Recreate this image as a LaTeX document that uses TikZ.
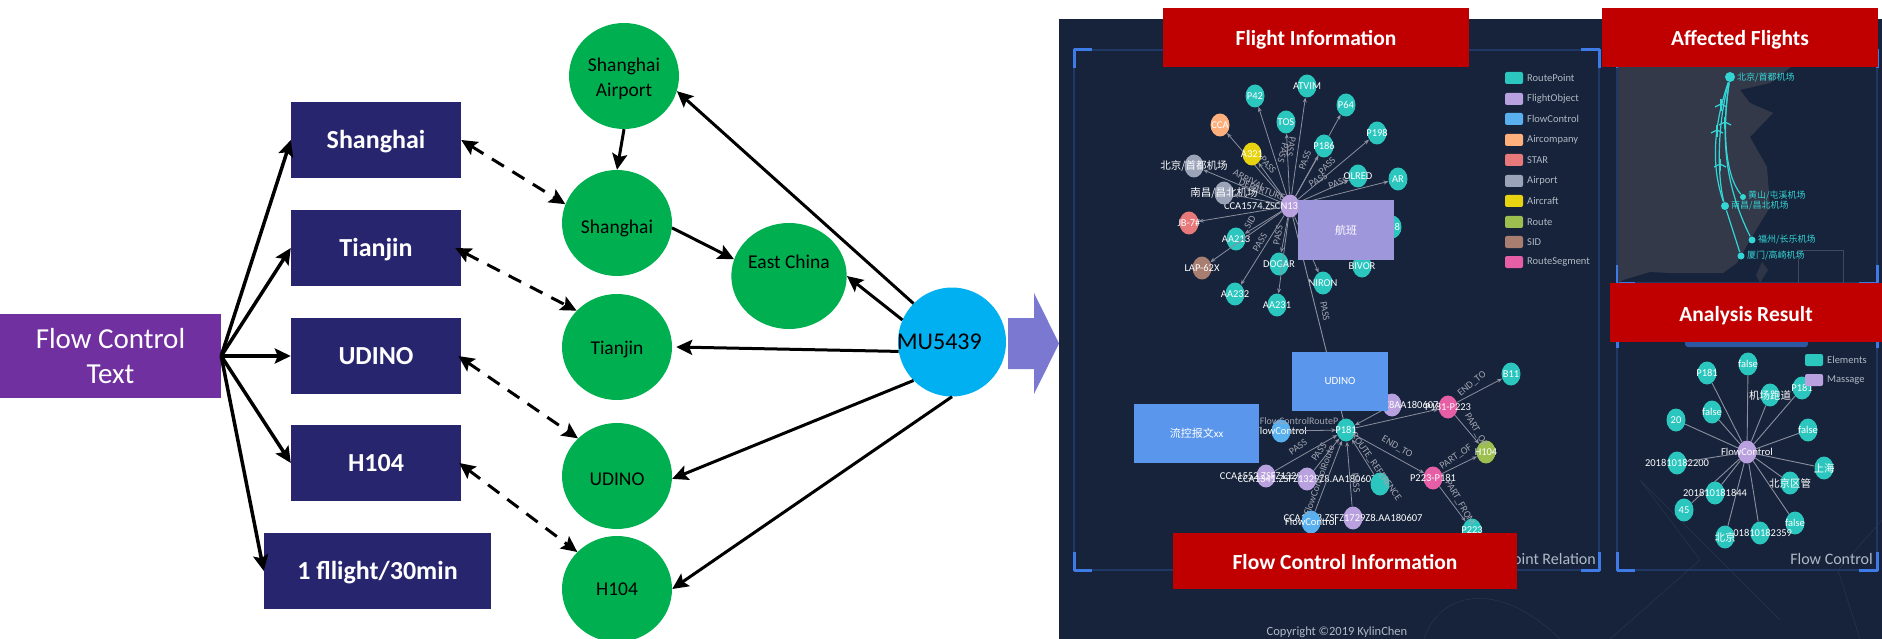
\documentclass[tikz,border=0pt]{standalone}
\usepackage{fontspec}
\setmainfont{Carlito}
\newfontfamily\zhfont{Noto Sans CJK SC}
\usetikzlibrary{arrows.meta,shapes.geometric}
\definecolor{navybox}{HTML}{28256F}
\definecolor{purplebox}{HTML}{7030A0}
\definecolor{greennode}{HTML}{00B050}
\definecolor{skynode}{HTML}{00B0F0}
\definecolor{redbar}{HTML}{C00000}
\definecolor{blockarrow}{HTML}{7B78D2}
\definecolor{dashbg}{HTML}{16233A}
\definecolor{framelow}{HTML}{1F3866}
\definecolor{framehigh}{HTML}{3E7BE6}
\definecolor{landgrey}{HTML}{34394A}
\definecolor{gedgecol}{HTML}{8C8F9F}
\definecolor{legendtext}{HTML}{B0BAC6}
\definecolor{routecyan}{HTML}{33D5D5}
\definecolor{cteal}{HTML}{2BC6BE}
\definecolor{clav}{HTML}{B9A1DF}
\definecolor{cblue}{HTML}{5AB0EE}
\definecolor{corange}{HTML}{FFB07C}
\definecolor{cred}{HTML}{E8797B}
\definecolor{cgrey}{HTML}{9BA3B8}
\definecolor{cyellow}{HTML}{E8D310}
\definecolor{cgreen}{HTML}{9CBF50}
\definecolor{cbrown}{HTML}{A87E70}
\definecolor{cpink}{HTML}{E65FA6}
\definecolor{taglav}{HTML}{9E97DC}
\definecolor{tagblue}{HTML}{5A96EC}
\newcommand{\setfs}[1]{\fontsize{#1}{#1}\selectfont}
\newcommand{\zh}[1]{{\zhfont #1}}
\newcommand{\lowered}[2]{\raisebox{#1}[0pt][0pt]{#2}}
\tikzset{
	navy/.style={rectangle,fill=navybox,text=white,font=\setfs{26}\bfseries,minimum width=170pt,minimum height=76pt,inner sep=0pt,text height=17pt,text depth=0pt},
	greenball/.style={ellipse,fill=greennode,font=\setfs{19.5},minimum width=110pt,minimum height=106pt,inner sep=0pt,align=center},
	redbanner/.style={rectangle,fill=redbar,text=white,font=\setfs{21.5}\bfseries,inner sep=0pt,text height=17pt,text depth=0pt},
	tagbox/.style={rectangle,text=white,font=\setfs{11},inner sep=0pt,minimum height=59pt},
	gnode/.style={ellipse,inner sep=0pt,minimum width=19pt,minimum height=23pt,text=white,font=\setfs{10.5}},
	gedge/.style={draw=gedgecol,line width=0.8pt,-{Stealth[length=5pt,width=4pt]}},
	gline/.style={draw=gedgecol,line width=0.9pt},
	glabel/.style={text=gedgecol!80!white,font=\setfs{10},inner sep=0pt},
	legendkey/.style={rectangle,rounded corners=2pt,minimum width=18pt,minimum height=12pt,inner sep=0pt},
	legendname/.style={text=legendtext,font=\setfs{10.5},inner sep=0pt,anchor=west},
	routelabel/.style={text=routecyan,font=\setfs{9},inner sep=0pt,anchor=west},
}
\begin{document}
\begin{tikzpicture}[
	x=1pt,y=-1pt,
	>={Stealth[length=16pt,width=15pt,inset=3pt]},
	line join=round
	]
	\useasboundingbox (0,0) rectangle (1882,639);
	% dashboard
	\fill[dashbg] (1059,19) rectangle (1882,639);
	\begin{scope}[draw=dashbg!92!white,line width=0.5pt]
		\draw (1610,639) -- (1700,560) -- (1640,480) -- (1780,620);
		\draw (1860,639) -- (1838,570) -- (1882,520);
		\draw (1424,639) .. controls (1440,590) and (1500,580) .. (1560,639);
	\end{scope}
	\foreach \xa/\ya/\xb/\yb in {1074/50/1599/570,1617/50/1877/283,1617/330/1877/570}{
		\draw[framelow,line width=1.2pt] (\xa,\ya) rectangle (\xb,\yb);
		\draw[framehigh,line width=3pt] (\xa,\ya+18) -- (\xa,\ya) -- (\xa+18,\ya);
		\draw[framehigh,line width=3pt] (\xb,\ya+18) -- (\xb,\ya) -- (\xb-18,\ya);
		\draw[framehigh,line width=3pt] (\xa,\yb-18) -- (\xa,\yb) -- (\xa+18,\yb);
		\draw[framehigh,line width=3pt] (\xb,\yb-18) -- (\xb,\yb) -- (\xb-18,\yb);
	}
	% map
	\fill[landgrey] (1618,50) -- (1800,60) -- (1770,83) -- (1740,90) -- (1750,103) -- (1773,113) -- (1750,137) -- (1767,167) -- (1770,207) -- (1750,240) -- (1737,263) -- (1723,273) -- (1670,273) -- (1650,272) -- (1623,280) -- (1618,283) -- cycle;
	\fill[landgrey!80!dashbg] (1762,262) -- (1768,270) -- (1760,283) -- (1756,275) -- cycle;
	\draw[gedgecol!35!dashbg,line width=0.5pt] (1798,283) -- (1798,250) -- (1843,250) -- (1843,283);
	\begin{scope}[routecyan,line width=1.2pt]
		\node[circle,fill=routecyan,inner sep=0pt,minimum size=10pt] (bj) at (1730,77) {};
		\node[circle,fill=routecyan,inner sep=0pt,minimum size=6pt] (hs) at (1743,197) {};
		\node[circle,fill=routecyan,inner sep=0pt,minimum size=8pt] (nc) at (1725,206) {};
		\node[circle,fill=routecyan,inner sep=0pt,minimum size=7pt] (fz) at (1752,240) {};
		\node[circle,fill=routecyan,inner sep=0pt,minimum size=7pt] (xm) at (1741,256) {};
		\draw (bj) .. controls (1712,130) and (1712,170) .. (nc);
		\draw (bj) .. controls (1716,130) and (1718,180) .. (nc);
		\draw (bj) .. controls (1722,130) and (1725,175) .. (hs);
		\draw (bj) .. controls (1722,130) and (1722,180) .. (fz);
		\draw (nc) -- (xm);
		\foreach \x/\y in {1721/105,1725/123,1717/131,1720/165}{
			\draw (\x-6,\y+2) -- (\x,\y-1) -- (\x+6,\y+2);
			\draw (\x,\y-6) -- (\x,\y+6);
		}
	\end{scope}
	\node[routelabel] (bjname) at (1737,77) {\zh{北京/首都机场}};
	\node[routelabel] (hsname) at (1748,196) {\zh{黄山/屯溪机场}};
	\node[routelabel] (ncname) at (1731,206) {\zh{南昌/昌北机场}};
	\node[routelabel] (fzname) at (1758,240) {\zh{福州/长乐机场}};
	\node[routelabel] (xmname) at (1747,256) {\zh{厦门/高崎机场}};
	% flight graph
	\node[gnode,fill=clav] (flight) at (1290,206) {\makebox[0pt][r]{CCA1574.ZSCN13\hspace{-8pt}}};
	\foreach \name/\x/\y/\col/\txt in {
		p42/1255/96/cteal/P42,atvim/1307/86/cteal/ATVIM,p64/1346/105/cteal/P64,tos/1286/122/cteal/TOS,
		p198/1377/133/cteal/P198,cca/1220/125/corange/CCA,a321/1252/154/cyellow/A321,p186/1324/146/cteal/P186,
		olred/1358/176/cteal/OLRED,ar/1398/179/cteal/AR,bjport/1194/166/cgrey/{\zh{北京/首都机场}},
		ncport/1224/193/cgrey/{\zh{南昌/昌北机场}},star/1189/223/cred/JB-7\#,aa213/1236/239/cteal/AA213,
		sid/1202/268/cbrown/LAP-62X,aa232/1235/294/cteal/AA232,dogar/1279/264/cteal/DOGAR,aa231/1277/305/cteal/AA231,
		niron/1323/283/cteal/NIRON,bivor/1362/266/cteal/BIVOR,p48/1392/227/cteal/P48}{
		\node[gnode,fill=\col] (\name) at (\x,\y) {\makebox[0pt]{\txt}};
		\draw[gedge] (flight) -- (\name);
	}
	\foreach \x/\y/\ang/\txt in {
		1249/180/-28/ARRIVAL,1262/190/-20/DEPARTURE,1291/147/-100/PASS,1283/153/-105/PASS,1327/166/45/PASS,
		1318/180/30/PASS,1338/183/20/PASS,1268/165/-50/PASS,1305/160/70/PASS,1260/242/60/PASS,1278/235/80/PASS,
		1250/222/60/SID,1325/311/-80/PASS}{
		\node[glabel,rotate=\ang] (lab\x) at (\x,\y) {\txt};
	}
	% flow control graph
	\node[gnode,fill=cteal] (p181) at (1346,430) {\makebox[0pt]{P181}};
	\node[gnode,fill=cpink] (pseg) at (1448,407) {\makebox[0pt]{P181-P223}};
	\node[gnode,fill=cteal] (b11) at (1511,374) {\makebox[0pt]{B11}};
	\node[gnode,fill=cgreen] (h104) at (1486,452) {\makebox[0pt]{H104}};
	\node[gnode,fill=cpink] (pp) at (1433,478) {\makebox[0pt]{P223-P181}};
	\node[gnode,fill=cteal] (p223) at (1472,530) {\makebox[0pt]{P223}};
	\foreach \name/\x/\y/\col/\txt in {
		lavtop/1392/405/clav/CCA1314Z8AA180607,flowleft/1281/431/cblue/FlowControl,lavone/1266/476/clav/CCA1552.ZSFZ1329Z8,
		lavtwo/1307/479/clav/CCA1341.ZSFZ1329Z8.AA180607,tealdot/1380/484/cteal/{},lavthree/1353/518/clav/CCA1728.ZSFZ1729Z8.AA180607,
		flowlow/1311/522/cblue/FlowControl}{
		\node[gnode,fill=\col] (\name) at (\x,\y) {\makebox[0pt]{\txt}};
		\draw[gedge] (\name) -- (p181);
	}
	\draw[gline] (flight) -- (p181);
	\foreach \from/\to in {p181/pseg,pseg/b11,pseg/h104,pp/h104,pp/p223,p181/pp}{
		\draw[gedge] (\from) -- (\to);
	}
	\foreach \x/\y/\ang/\txt in {
		1472/384/40/END\_TO,1476/430/-60/PART\_OF,1397/447/-30/END\_TO,1456/457/35/PART\_OF,1460/503/-60/PART\_FROM,
		1298/447/35/PASS,1319/452/55/PASS,1356/483/-85/PASS,1299/421/0/FlowControlRouteP,1376/467/-55/ROUTE\_REFERENCE,
		1319/480/70/FlowControlRoute}{
		\node[glabel,rotate=\ang] (lab\x) at (\x,\y) {\txt};
	}
	% analysis graph
	\fill[framehigh!60!dashbg,rounded corners=3pt] (1685,340) rectangle (1808,347);
	\node[gnode,fill=clav] (fc) at (1747,452) {\makebox[0pt]{FlowControl}};
	\foreach \name/\x/\y/\txt in {
		fa/1748/364/false,pa/1707/373/P181,fb/1712/412/false,twenty/1676/420/20,apt/1770/395/{\zh{机场跑道}},pb/1802/388/P181,
		fc2/1808/430/false,sh/1824/468/{\zh{上海}},bq/1790/483/{\zh{北京区管}},fd/1795/523/false,t59/1760/533/201810182359,
		bjn/1725/537/{\zh{北京}},fortyfive/1684/510/45,t44/1715/493/201810181844,t00/1677/463/201810182200}{
		\node[gnode,fill=cteal] (\name) at (\x,\y) {\makebox[0pt]{\txt}};
		\draw[gline] (fc) -- (\name);
	}
	% legends
	\foreach \col/\txt/\y in {cteal/RoutePoint/78,clav/FlightObject/99,cblue/FlowControl/119,corange/Aircompany/140,cred/STAR/160,cgrey/Airport/181,cyellow/Aircraft/201,cgreen/Route/222,cbrown/SID/242,cpink/RouteSegment/262}{
		\node[legendkey,fill=\col] (key\txt) at (1514,\y) {};
		\node[legendname] (name\txt) at (1527,\y) {\txt};
	}
	\foreach \col/\txt/\y in {cteal/Elements/360,clav/Massage/380}{
		\node[legendkey,fill=\col] (key\txt) at (1814,\y) {};
		\node[legendname] (name\txt) at (1827,\y) {\txt};
	}
	\node[text=legendtext,font=\setfs{16},inner sep=0pt,anchor=east] (pointrel) at (1596,559) {Point Relation};
	\node[text=legendtext,font=\setfs{16},inner sep=0pt,anchor=east] (flowrel) at (1873,559) {Flow Control};
	\node[text=legendtext,font=\setfs{12.5},inner sep=0pt] (copy) at (1337,632) {Copyright ©2019 KylinChen};
	% overlay boxes
	\node[tagbox,fill=taglav,minimum width=96pt] (hangban) at (1346,230) {\zh{航班}};
	\node[tagbox,fill=tagblue,minimum width=96pt] (udinotag) at (1340,381) {UDINO};
	\node[tagbox,fill=tagblue,minimum width=125pt] (msgtag) at (1196.5,433) {\zh{流控报文}xx};
	\node[redbanner,minimum width=306pt,minimum height=59pt] (flightinfo) at (1316,37.5) {Flight Information};
	\node[redbanner,minimum width=276pt,minimum height=59pt] (affected) at (1740,37.5) {Affected Flights};
	\node[redbanner,minimum width=272pt,minimum height=59pt] (analysis) at (1746,312.5) {Analysis Result};
	\node[redbanner,minimum width=344pt,minimum height=56pt] (flowinfo) at (1345,561) {Flow Control Information};
	% left part
	\node[rectangle,fill=purplebox,text=white,font=\setfs{29},minimum width=221pt,minimum height=84pt,inner sep=0pt,align=center] (flow) at (110.5,356) {Flow Control\\[6pt]Text};
	\node[navy] (shbox) at (376,140) {Shanghai};
	\node[navy] (tjbox) at (376,248) {Tianjin};
	\node[navy] (udbox) at (376,356) {UDINO};
	\node[navy] (hbox) at (376,463) {H104};
	\node[navy,minimum width=227pt] (ratebox) at (377.5,571) {1 fllight/30min};
	\node[greenball] (airport) at (624,76) {\lowered{-21pt}{\shortstack{Shanghai\\[6pt]Airport}}};
	\node[greenball] (shanghai) at (617,223) {\lowered{-10pt}{Shanghai}};
	\node[greenball] (east) at (789,276) {\lowered{8pt}{East China}};
	\node[greenball] (tianjin) at (617,347) {\lowered{-7pt}{Tianjin}};
	\node[greenball] (udino) at (617,476) {\lowered{-9pt}{UDINO}};
	\node[greenball] (hfour) at (617,589) {\lowered{-6pt}{H104}};
	\node[ellipse,fill=skynode,font=\setfs{24},minimum width=108pt,minimum height=109pt,inner sep=0pt] (mu) at (952,342) {\makebox[0pt]{MU5439\hspace{25pt}}};
	\fill[blockarrow] (1008,318) -- (1034,318) -- (1034,293) -- (1059,343.5) -- (1034,394) -- (1034,369) -- (1008,369) -- cycle;
	\begin{scope}[->,line width=3.5pt]
		\draw (flow.east) -- (shbox.west);
		\draw (flow.east) -- (tjbox.west);
		\draw (flow.east) -- (udbox.west);
		\draw (flow.east) -- (hbox.west);
		\draw (flow.east) -- (ratebox.west);
	\end{scope}
	\begin{scope}[<->,line width=3pt,dash pattern=on 14pt off 10pt]
		\draw (shbox.east) -- (shanghai.160);
		\draw ([xshift=-6pt]tjbox.east) -- (tianjin.138);
		\draw ([xshift=-3pt]udbox.east) -- (udino.136);
		\draw ([xshift=-2pt]hbox.east) -- (hfour.137);
	\end{scope}
	\begin{scope}[->,line width=3pt]
		\draw (airport.south) -- (shanghai.north);
		\draw (shanghai.-5) -- (east.163);
		\draw (mu.135) -- (airport.-16);
		\draw (mu.156) -- (east.east);
		\draw (mu.190) -- ([xshift=4pt]tianjin.east);
		\draw (mu.225) -- (udino.-3);
		\draw (mu.south) -- (hfour.east);
	\end{scope}
\end{tikzpicture}
\end{document}
